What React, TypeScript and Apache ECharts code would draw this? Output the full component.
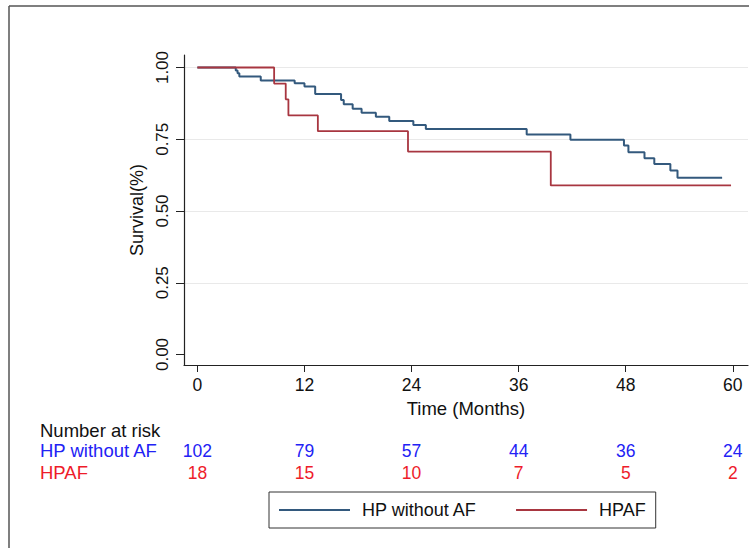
import React, { useEffect, useRef } from "react";
import * as echarts from "echarts";

// Kaplan-Meier step data
const blueMonths = [0, 4.3, 4.5, 4.7, 7.1, 10.9, 12.0, 13.2, 16.1, 16.4, 17.4, 18.4, 20.0, 21.5, 24.2, 25.6, 36.9, 41.8, 47.8, 48.3, 50.1, 51.2, 53.0, 53.8, 58.8];
const blueSurvival = [1, 0.99, 0.98, 0.969, 0.955, 0.945, 0.934, 0.908, 0.887, 0.872, 0.856, 0.842, 0.828, 0.814, 0.8, 0.786, 0.767, 0.748, 0.728, 0.705, 0.684, 0.664, 0.641, 0.616, 0.616];
const redMonths = [0, 8.6, 9.9, 10.2, 13.5, 23.6, 39.6, 59.8];
const redSurvival = [1, 0.944, 0.889, 0.833, 0.778, 0.707, 0.589, 0.589];

const xTicks = [0, 12, 24, 36, 48, 60];
const yTicks = [0, 0.25, 0.5, 0.75, 1];
const gridValues = [0.25, 0.5, 0.75, 1];
const riskBlue = [102, 79, 57, 44, 36, 24];
const riskRed = [18, 15, 10, 7, 5, 2];

const blueName = "HP without AF";
const redName = "HPAF";

const FONT = "'Liberation Sans', Arial, Helvetica, sans-serif";
const BLUE_LINE = "#33597d";
const RED_LINE = "#a83640";
const BLUE_TEXT = "#2222f5";
const RED_TEXT = "#ee1c2a";

export default function App() {
  const ref = useRef<HTMLDivElement>(null);
  useEffect(() => {
    if (!ref.current) return;
    const chart = echarts.init(ref.current, undefined, { renderer: "svg" });
    const xMin = -1.5;
    const xMax = 61.7;
    const riskAxis = (offset: number, values: number[], color: string) => ({
      type: "value",
      gridIndex: 0,
      position: "bottom",
      offset,
      min: xMin,
      max: xMax,
      axisLine: { show: false, onZero: false },
      axisTick: { show: false },
      splitLine: { show: false },
      axisLabel: {
        customValues: xTicks,
        formatter: (v: number) => {
          const i = xTicks.indexOf(Math.round(v));
          return i >= 0 ? String(values[i]) : "";
        },
        color,
        fontSize: 17.5,
        fontFamily: FONT,
        margin: 12,
      },
    });
    chart.setOption({
      animation: false,
      backgroundColor: "#ffffff",
      textStyle: { fontFamily: FONT },
      grid: { left: 184, right: 1, top: 55, bottom: 183, containLabel: false },
      xAxis: [
        {
          type: "value",
          min: xMin,
          max: xMax,
          name: "Time (Months)",
          nameLocation: "middle",
          nameGap: 32,
          nameTextStyle: { fontSize: 18.5, color: "#111", fontFamily: FONT },
          axisLine: { show: true, onZero: false, lineStyle: { color: "#222", width: 1.2 } },
          axisTick: { show: true, customValues: xTicks, length: 7, lineStyle: { color: "#222" } },
          axisLabel: { customValues: xTicks, fontSize: 17.5, color: "#111", fontFamily: FONT, margin: 11 },
          splitLine: { show: false },
        },
        riskAxis(65, riskBlue, BLUE_TEXT),
        riskAxis(87, riskRed, RED_TEXT),
      ],
      yAxis: {
        type: "value",
        min: -0.0366,
        max: 1.0436,
        name: "Survival(%)",
        nameLocation: "middle",
        nameRotate: 90,
        nameGap: 31,
        nameTextStyle: { fontSize: 18, color: "#111", fontFamily: FONT },
        axisLine: { show: true, onZero: false, lineStyle: { color: "#222", width: 1.2 } },
        axisTick: { show: true, customValues: yTicks, length: 8, lineStyle: { color: "#222" } },
        axisLabel: {
          customValues: yTicks,
          rotate: 90,
          formatter: (v: number) => v.toFixed(2),
          fontSize: 17,
          color: "#111",
          fontFamily: FONT,
          margin: 13,
        },
        splitLine: { show: false },
      },
      legend: {
        data: [blueName, redName],
        left: 269,
        top: 492,
        orient: "horizontal",
        padding: [9, 10, 9, 10],
        itemGap: 39,
        itemWidth: 71,
        itemHeight: 2,
        icon: "rect",
        borderColor: "#333",
        borderWidth: 1,
        textStyle: { fontSize: 18, color: "#111", fontFamily: FONT, padding: [0, 0, 0, 7], lineHeight: 18 },
      },
      series: [
        {
          type: "line",
          name: "grid",
          data: [[0, 1]],
          showSymbol: false,
          lineStyle: { width: 0 },
          z: 0,
          silent: true,
          markLine: {
            silent: true,
            z: 0,
            symbol: "none",
            label: { show: false },
            lineStyle: { color: "#e9e9e9", width: 1, type: "solid" },
            data: gridValues.map((v) => ({ yAxis: v })),
          },
        },
        {
          type: "line",
          name: blueName,
          step: "end",
          showSymbol: false,
          z: 3,
          itemStyle: { color: BLUE_LINE },
          lineStyle: { color: BLUE_LINE, width: 2 },
          data: blueMonths.map((t, i) => [t, blueSurvival[i]]),
        },
        {
          type: "line",
          name: redName,
          step: "end",
          showSymbol: false,
          z: 4,
          itemStyle: { color: RED_LINE },
          lineStyle: { color: RED_LINE, width: 1.8 },
          data: redMonths.map((t, i) => [t, redSurvival[i]]),
        },
      ],
      graphic: [
        { type: "line", shape: { x1: 9, y1: 6, x2: 749, y2: 6 }, style: { stroke: "#555", lineWidth: 1.5 } },
        { type: "line", shape: { x1: 9, y1: 6, x2: 9, y2: 548 }, style: { stroke: "#555", lineWidth: 1.5 } },
        { type: "text", left: 40, top: 421, style: { text: "Number at risk", fontSize: 18.5, fill: "#111", fontFamily: FONT } },
        { type: "text", left: 40, top: 441, style: { text: blueName, fontSize: 18.5, fill: BLUE_TEXT, fontFamily: FONT } },
        { type: "text", left: 40, top: 463, style: { text: redName, fontSize: 18.5, fill: RED_TEXT, fontFamily: FONT } },
      ],
    });
    return () => chart.dispose();
  }, []);
  return <div ref={ref} style={{ position: "fixed", left: 0, top: 0, width: 749, height: 548 }} />;
}
